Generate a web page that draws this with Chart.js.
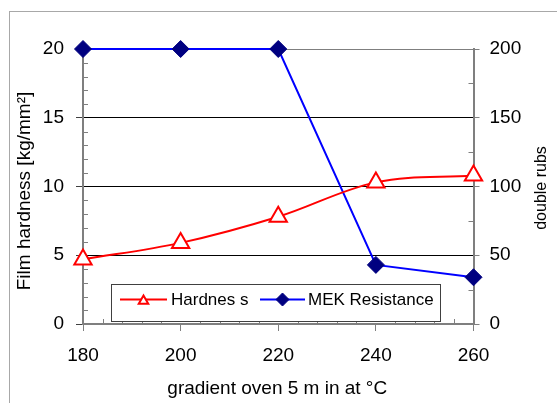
<!DOCTYPE html>
<html><head><meta charset="utf-8">
<script src="https://cdn.jsdelivr.net/npm/chart.js@4/dist/chart.umd.min.js"></script>
<style>html,body{margin:0;padding:0;background:#fff;}canvas{display:block;}</style>
</head><body>
<canvas id="c" width="557" height="403"></canvas>
<script>
// ---- data ----
const temperatures = [180, 200, 220, 240, 260];
const hardness = [4.7, 5.9, 7.8, 10.3, 10.8];
const mekResistance = [200, 200, 200, 43, 34];
const xTickValues = [180, 200, 220, 240, 260];
const leftTickValues = [0, 5, 10, 15, 20];
const rightTickValues = [0, 50, 100, 150, 200];
const seriesNames = ['Hardnes s', 'MEK Resistance'];
const xTitle = 'gradient oven 5 m in at °C';
const yTitle = 'Film hardness [kg/mm²]';
const y2Title = 'double rubs';

const FONT = '"Liberation Sans", Arial, sans-serif';
const GRAY = '#7f7f7f';

const hardPts = temperatures.map((t, i) => ({x: t, y: hardness[i]}));
const mekPts = temperatures.map((t, i) => ({x: t, y: mekResistance[i]}));

const frame = {
  id: 'frame',
  beforeDraw(chart) {
    const ctx = chart.ctx;
    ctx.save();
    ctx.fillStyle = '#fff';
    ctx.fillRect(0, 0, chart.width, chart.height);
    ctx.strokeStyle = '#a8a8a8';
    ctx.lineWidth = 1;
    ctx.strokeRect(9.5, 11.5, 700, 600);
    ctx.restore();
  }
};

const minorTicks = {
  id: 'minorTicks',
  beforeDatasetsDraw(chart) {
    const {ctx, chartArea: a, scales} = chart;
    ctx.save();
    ctx.strokeStyle = GRAY;
    ctx.lineWidth = 1;
    ctx.beginPath();
    for (let v = scales.x.min; v <= scales.x.max; v += 4) {
      if (xTickValues.includes(v)) continue;
      const px = Math.round(scales.x.getPixelForValue(v)) + 0.5;
      ctx.moveTo(px, a.bottom); ctx.lineTo(px, a.bottom - 5);
    }
    for (let v = scales.y.min; v <= scales.y.max; v += 1) {
      if (leftTickValues.includes(v)) continue;
      const py = Math.round(scales.y.getPixelForValue(v)) + 0.5;
      ctx.moveTo(a.left, py); ctx.lineTo(a.left + 5, py);
    }
    for (let v = scales.y2.min; v <= scales.y2.max; v += 25) {
      if (rightTickValues.includes(v)) continue;
      const py = Math.round(scales.y2.getPixelForValue(v)) + 0.5;
      ctx.moveTo(a.right, py); ctx.lineTo(a.right - 5, py);
    }
    ctx.stroke();
    ctx.restore();
  }
};

const titlesAndLegend = {
  id: 'titlesAndLegend',
  afterDraw(chart) {
    const {ctx, chartArea: a} = chart;
    ctx.save();
    ctx.fillStyle = '#000';
    ctx.textAlign = 'center';
    ctx.textBaseline = 'middle';
    // x title
    ctx.font = '19px ' + FONT;
    ctx.fillText(xTitle, (a.left + a.right) / 2 - 1, 389);
    // left title
    ctx.save();
    ctx.translate(25, 191);
    ctx.rotate(-Math.PI / 2);
    ctx.fillText(yTitle, 0, 0);
    ctx.restore();
    // right title
    ctx.save();
    ctx.font = '16px ' + FONT;
    ctx.translate(542, 188);
    ctx.rotate(-Math.PI / 2);
    ctx.fillText(y2Title, 0, 0);
    ctx.restore();

    // legend
    const bx = 111.5, by = 284.5, bw = 329, bh = 37;
    ctx.fillStyle = '#fff';
    ctx.fillRect(bx, by, bw, bh);
    ctx.strokeStyle = '#404040';
    ctx.lineWidth = 1;
    ctx.strokeRect(bx, by, bw, bh);
    const ly = 299.5;
    const items = [
      {x0: 120, x1: 167, tx: 171, ds: chart.data.datasets[0], r: 5.5},
      {x0: 260, x1: 305, tx: 308, ds: chart.data.datasets[1], r: 6.5}
    ];
    items.forEach((it, i) => {
      ctx.strokeStyle = it.ds.borderColor;
      ctx.lineWidth = 2;
      ctx.beginPath(); ctx.moveTo(it.x0, ly); ctx.lineTo(it.x1, ly); ctx.stroke();
      ctx.fillStyle = it.ds.pointBackgroundColor;
      ctx.strokeStyle = it.ds.pointBorderColor;
      ctx.lineWidth = it.ds.pointBorderWidth;
      Chart.helpers.drawPoint(ctx, {pointStyle: it.ds.pointStyle, radius: it.r, rotation: 0, borderWidth: it.ds.pointBorderWidth}, (it.x0 + it.x1) / 2, ly + (i === 0 ? 1.5 : 0));
      ctx.fillStyle = '#000';
      ctx.textAlign = 'left';
      ctx.font = '17px ' + FONT;
      ctx.fillText(seriesNames[i], it.tx, ly + 0.5);
    });
    ctx.restore();
  }
};

new Chart(document.getElementById('c'), {
  type: 'line',
  data: {
    datasets: [
      {
        label: seriesNames[0], data: hardPts, yAxisID: 'y',
        borderColor: '#ff0000', borderWidth: 2, tension: 0.35,
        pointStyle: 'triangle', pointRadius: 10, pointBorderWidth: 2,
        pointBackgroundColor: '#ffffff', pointBorderColor: '#ff0000',
        clip: false
      },
      {
        label: seriesNames[1], data: mekPts, yAxisID: 'y2',
        borderColor: '#0000ff', borderWidth: 2, tension: 0,
        pointStyle: 'rectRot', pointRadius: 8.5, pointBorderWidth: 1,
        pointBackgroundColor: '#000080', pointBorderColor: '#000080',
        clip: false
      }
    ]
  },
  options: {
    responsive: false,
    animation: false,
    devicePixelRatio: 1,
    layout: {padding: {top: 49, left: 0, right: 0, bottom: 0}},
    plugins: {legend: {display: false}, tooltip: {enabled: false}},
    scales: {
      x: {
        type: 'linear', position: 'bottom', min: 180, max: 260,
        afterBuildTicks: s => { s.ticks = xTickValues.map(v => ({value: v})); },
        afterFit: s => { s.height = 79; },
        ticks: {color: '#000', font: {size: 19, family: FONT}, padding: 13, maxRotation: 0},
        grid: {drawOnChartArea: false, tickLength: 7, tickColor: GRAY, color: GRAY},
        border: {color: GRAY, width: 2}
      },
      y: {
        position: 'left', min: 0, max: 20,
        afterBuildTicks: s => { s.ticks = leftTickValues.map(v => ({value: v})); },
        afterFit: s => { s.width = 83; },
        ticks: {color: '#000', font: {size: 19, family: FONT}, padding: 12},
        grid: {
          tickLength: 7, tickColor: '#404040', lineWidth: 1,
          color: c => c.tick.value === 0 ? 'rgba(0,0,0,0)' : (c.tick.value === 20 ? GRAY : '#000')
        },
        border: {color: GRAY, width: 2}
      },
      y2: {
        position: 'right', min: 0, max: 200,
        afterBuildTicks: s => { s.ticks = rightTickValues.map(v => ({value: v})); },
        afterFit: s => { s.width = 83.5; },
        ticks: {color: '#000', font: {size: 19, family: FONT}, padding: 10},
        grid: {drawOnChartArea: false, tickLength: 6, tickColor: GRAY, color: GRAY},
        border: {color: GRAY, width: 2}
      }
    }
  },
  plugins: [frame, minorTicks, titlesAndLegend]
});
</script>
</body></html>
